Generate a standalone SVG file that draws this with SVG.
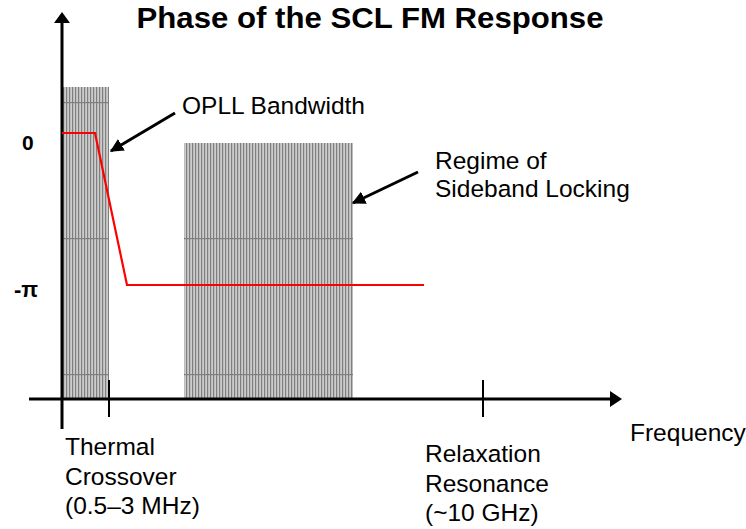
<svg xmlns="http://www.w3.org/2000/svg" width="746" height="529" viewBox="0 0 746 529">
  <style>
    .lbl { font-family: "Liberation Sans", Arial, sans-serif; font-size: 24.5px; fill: #000; }
    .bold { font-family: "Liberation Sans", Arial, sans-serif; font-weight: bold; fill: #000; }
    .axis { stroke: #000; stroke-width: 3; fill: none; }
    .tick { stroke: #000; stroke-width: 2; fill: none; }
    .ptr { stroke: #000; stroke-width: 3; fill: none; }
    .hatch { fill: url(#hatch); }
  </style>
  <defs>
    <pattern id="hatch" patternUnits="userSpaceOnUse" x="0" y="102" width="3" height="136">
      <rect x="0" y="0" width="3" height="136" fill="#cccccc"/>
      <rect x="0" y="0" width="1.2" height="136" fill="#7f7f7f"/>
      <rect x="0" y="0" width="3" height="1.2" fill="#7f7f7f"/>
    </pattern>
    <marker id="ah" viewBox="0 0 10 10" refX="9" refY="5" markerWidth="4.5" markerHeight="4.5" orient="auto" markerUnits="strokeWidth">
      <path d="M0,0 L10,5 L0,10 z" fill="#000"/>
    </marker>
  </defs>

  <g id="title">
    <text class="bold" x="370" y="28" font-size="29" text-anchor="middle" textLength="467" lengthAdjust="spacingAndGlyphs">Phase of the SCL FM Response</text>
  </g>

  <g id="opll-region">
    <rect class="hatch" x="62" y="87" width="47" height="312"/>
  </g>
  <g id="sideband-region">
    <rect class="hatch" x="184" y="143" width="169" height="256"/>
  </g>

  <g id="axes">
    <line class="axis" x1="62" y1="22" x2="62" y2="429"/>
    <polygon points="62,12 54,23 70,23" fill="#000"/>
    <line class="axis" x1="29" y1="399" x2="612" y2="399"/>
    <polygon points="622,399 610,391 610,407" fill="#000"/>
    <line class="tick" x1="109" y1="380" x2="109" y2="417"/>
    <line class="tick" x1="483" y1="380" x2="483" y2="417"/>
  </g>

  <g id="phase-curve">
    <polyline points="62,133 95,133 127,285 424,285" fill="none" stroke="#ff0000" stroke-width="2.2"/>
  </g>

  <g id="connectors">
    <line class="ptr" x1="175" y1="113" x2="111" y2="151" marker-end="url(#ah)"/>
    <line class="ptr" x1="418" y1="172" x2="353" y2="203" marker-end="url(#ah)"/>
  </g>

  <g id="y-labels">
    <text class="bold" x="22" y="150" font-size="21">0</text>
    <text class="bold" x="14" y="297" font-size="22">-π</text>
  </g>

  <g id="opll-label">
    <text class="lbl" x="182" y="114">OPLL Bandwidth</text>
  </g>
  <g id="sideband-label">
    <text class="lbl" x="435" y="169">Regime of</text>
    <text class="lbl" x="435" y="197">Sideband Locking</text>
  </g>
  <g id="thermal-label">
    <text class="lbl" x="65" y="455">Thermal</text>
    <text class="lbl" x="65" y="485">Crossover</text>
    <text class="lbl" x="65" y="514">(0.5–3 MHz)</text>
  </g>
  <g id="relax-label">
    <text class="lbl" x="425" y="462">Relaxation</text>
    <text class="lbl" x="425" y="492">Resonance</text>
    <text class="lbl" x="425" y="521">(~10 GHz)</text>
  </g>
  <g id="freq-label">
    <text class="lbl" x="630" y="441">Frequency</text>
  </g>
</svg>
